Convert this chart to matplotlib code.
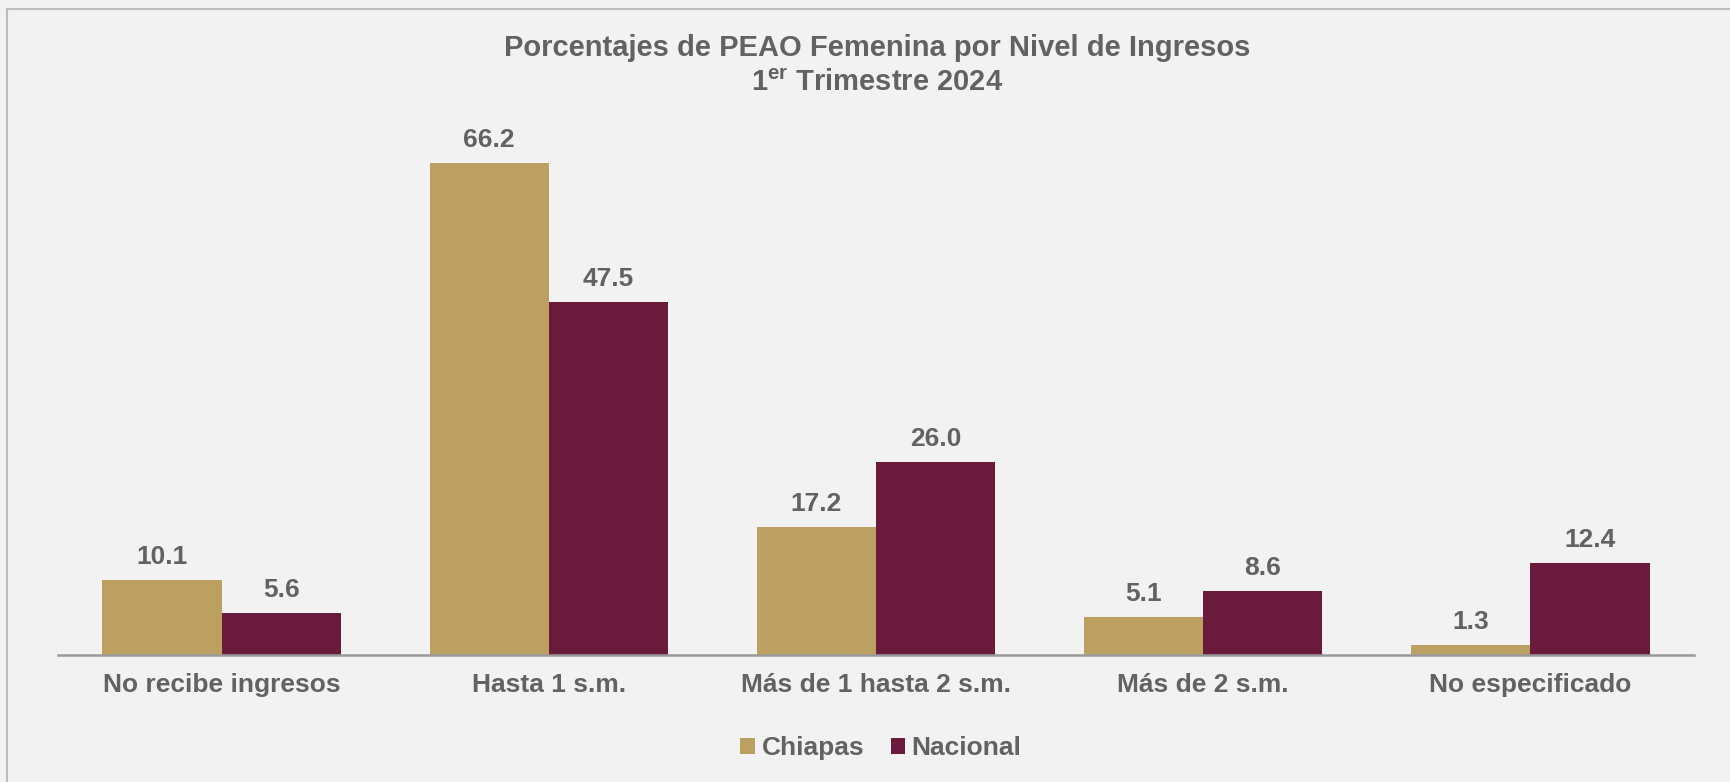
import numpy as np
import matplotlib.pyplot as plt
from matplotlib.lines import Line2D

plt.rcParams['font.family'] = ['Liberation Sans', 'DejaVu Sans']
plt.rcParams['mathtext.fontset'] = 'custom'
plt.rcParams['mathtext.rm'] = 'Liberation Sans:bold'
plt.rcParams['mathtext.bf'] = 'Liberation Sans:bold'

categories = ["No recibe ingresos", "Hasta 1 s.m.", "Más de 1 hasta 2 s.m.",
              "Más de 2 s.m.", "No especificado"]
chiapas = [10.1, 66.2, 17.2, 5.1, 1.3]
nacional = [5.6, 47.5, 26.0, 8.6, 12.4]
series_names = ["Chiapas", "Nacional"]

gold = "#BBA062"
wine = "#6A1A3A"
txt = "#626262"
bg = "#F2F2F2"

W, H = 1731, 782
fig = plt.figure(figsize=(W / 100, H / 100), dpi=100, facecolor=bg)
ax = fig.add_axes([58 / W, 127 / H, 1636 / W, 557 / H])
ax.set_facecolor(bg)

x = np.arange(len(categories))
bw = 0.364
b1 = ax.bar(x - bw / 2, chiapas, bw, color=gold, label=series_names[0])
b2 = ax.bar(x + bw / 2, nacional, bw, color=wine, label=series_names[1])

for bars, vals in ((b1, chiapas), (b2, nacional)):
    for r, v in zip(bars, vals):
        ax.annotate(f"{v:.1f}", (r.get_x() + r.get_width() / 2, r.get_height()),
                    xytext=(0, 11.5), textcoords="offset points",
                    ha="center", va="baseline", fontsize=19,
                    fontweight="bold", color=txt)

ax.set_xlim(-0.5, len(categories) - 0.5)
ax.set_ylim(0, 75)
ax.set_xticks(x)
ax.set_xticklabels(categories, fontsize=19, fontweight="bold", color=txt)
ax.tick_params(axis="x", length=0, pad=13)
ax.set_yticks([])
for s in ["top", "right", "left"]:
    ax.spines[s].set_visible(False)
ax.spines["bottom"].set_color("#9A9A9A")
ax.spines["bottom"].set_linewidth(1.8)

# title
fig.text(877 / W, 1 - 48 / H, "Porcentajes de PEAO Femenina por Nivel de Ingresos",
         ha="center", va="center", fontsize=21, fontweight="bold", color=txt)
fig.text(877 / W, 1 - 83 / H, r"1$^{\mathbf{er}}$ Trimestre 2024",
         ha="center", va="center", fontsize=21, fontweight="bold", color=txt)

leg = fig.legend(loc="center", bbox_to_anchor=(881 / W, 1 - 748 / H), ncol=2,
                 frameon=False, handlelength=0.55, handleheight=0.55,
                 handletextpad=0.25, columnspacing=1.0,
                 prop={"size": 19, "weight": "bold"})
for t in leg.get_texts():
    t.set_color(txt)

# outer frame (left + top edges visible)
fig.add_artist(Line2D([7 / W, 7 / W], [0, 1 - 9 / H], color="#BDBDBD", lw=1.5,
                      transform=fig.transFigure))
fig.add_artist(Line2D([7 / W, 1], [1 - 9 / H, 1 - 9 / H], color="#BDBDBD", lw=1.5,
                      transform=fig.transFigure))

fig.savefig("out.png", dpi=100, facecolor=bg)
